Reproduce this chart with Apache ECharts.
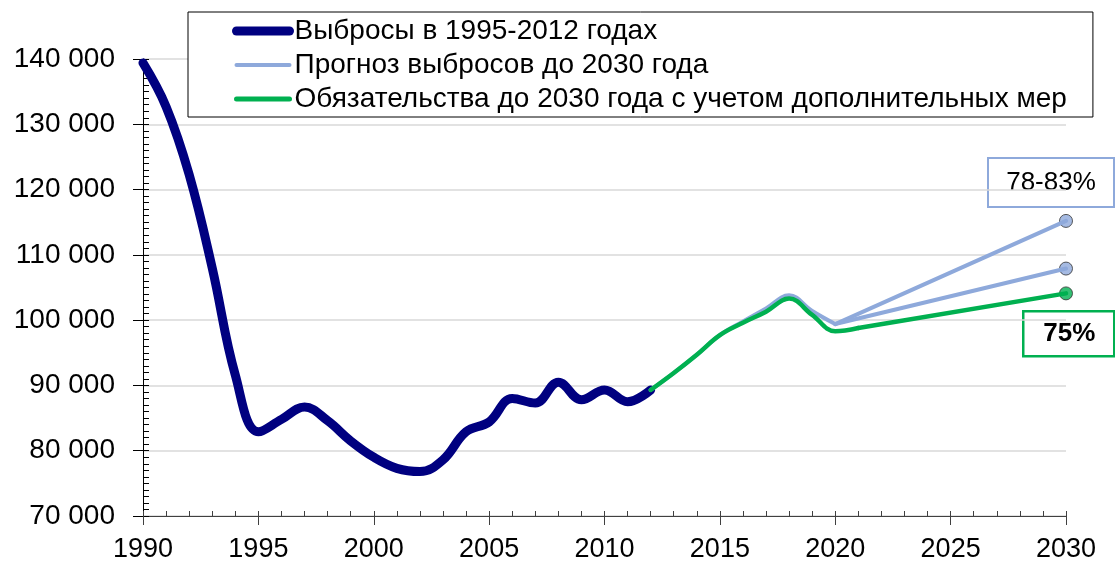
<!DOCTYPE html>
<html>
<head>
<meta charset="utf-8">
<script src="https://cdn.jsdelivr.net/npm/echarts@6/dist/echarts.min.js"></script>
<style>
  html, body { margin: 0; padding: 0; background: #fff; }
  #container { width: 1115px; height: 565px; }
</style>
</head>
<body>
<div id="container"></div>
<script>
// emissions 1990-2012
var histYears = [1990, 1991, 1992, 1993, 1994, 1995, 1996, 1997, 1998, 1999, 2000, 2001,
                 2002, 2003, 2004, 2005, 2006, 2007, 2008, 2009, 2010, 2011, 2012];
var histValues = [139400, 132700, 122300, 108000, 91600, 82900, 84800, 86700, 84600, 81500, 79000, 77300,
                  76800, 78600, 82900, 84400, 88000, 87300, 90500, 87800, 89300, 87500, 89300];

// forecast (two scenarios after 2020)
var fcYears = [2012, 2013, 2014, 2015, 2016, 2017, 2018, 2019, 2020];
var fcValues = [89300, 91900, 94700, 97700, 99800, 101800, 103800, 101400, 99400];
var fcHighYears = [2020, 2030];
var fcHighValues = [99400, 115200];
var fcLowYears = [2020, 2030];
var fcLowValues = [99400, 107900];

// commitments with additional measures
var comYears = [2012, 2013, 2014, 2015, 2016, 2017, 2018, 2019, 2020, 2021];
var comValues = [89300, 91900, 94700, 97700, 99600, 101300, 103300, 100800, 98300, 98800];
var comTailYears = [2021, 2030];
var comTailValues = [98800, 104100];

var seriesNames = [
    'Выбросы в 1995-2012 годах',
    'Прогноз выбросов до 2030 года',
    'Обязательства до 2030 года с учетом дополнительных мер'
];
var labelHigh = '78-83%';
var labelLow = '75%';

var NAVY = '#000080', BLUE = '#8EA9DB', GREEN = '#00B050';
var FONT = '"Liberation Sans", Arial, sans-serif';
var SMOOTH = 0.4;

function pairs(xs, ys) {
    var out = [];
    for (var i = 0; i < xs.length; i++) out.push([xs[i], ys[i]]);
    return out;
}

function fmt(v) {
    return String(v).replace(/\B(?=(\d{3})+(?!\d))/g, ' ');
}

var myChart = echarts.init(document.getElementById('container'));

var option = {
    animation: false,
    backgroundColor: '#fff',
    textStyle: { fontFamily: FONT },
    grid: { left: 143, right: 49, top: 59, bottom: 49 },
    legend: {
        orient: 'vertical',
        left: 188,
        top: 12,
        padding: [4, 26, 3, 44],
        itemWidth: 53,
        itemHeight: 14,
        itemGap: 4,
        backgroundColor: '#fff',
        borderColor: '#000',
        borderWidth: 1,
        borderRadius: 0,
        selectedMode: false,
        textStyle: { fontSize: 28, lineHeight: 30, color: '#000', fontFamily: FONT },
        data: [
            { name: seriesNames[0], itemStyle: { opacity: 0 }, lineStyle: { width: 9, color: NAVY, cap: 'round' } },
            { name: seriesNames[1], itemStyle: { opacity: 0 }, lineStyle: { width: 4, color: BLUE, cap: 'round' } },
            { name: seriesNames[2], itemStyle: { opacity: 0 }, lineStyle: { width: 5, color: GREEN, cap: 'round' } }
        ]
    },
    xAxis: [{
        type: 'value',
        min: 1990, max: 2030, interval: 5,
        axisLine: { lineStyle: { color: '#404040', width: 1 } },
        axisTick: { show: true, length: 9, lineStyle: { color: '#404040' } },
        axisLabel: { fontSize: 27, color: '#000', margin: 20, fontFamily: FONT,
                     formatter: function (v) { return String(v); } },
        splitLine: { show: false }
    }, {
        type: 'value',
        position: 'bottom',
        min: 1990, max: 2030, interval: 1,
        axisLine: { show: false },
        axisTick: { show: true, inside: true, length: 5, lineStyle: { color: '#404040' } },
        axisLabel: { show: false },
        splitLine: { show: false }
    }],
    yAxis: [{
        type: 'value',
        min: 70000, max: 140000, interval: 10000,
        axisLine: { show: true, lineStyle: { color: '#000', width: 1 } },
        axisTick: { show: true, length: 10, lineStyle: { color: '#000' } },
        axisLabel: { fontSize: 28, color: '#000', margin: 28, fontFamily: FONT, formatter: fmt },
        splitLine: { show: true, lineStyle: { color: '#d9d9d9', width: 1.5 } }
    }, {
        type: 'value',
        position: 'left',
        min: 70000, max: 140000, interval: 1000,
        axisLine: { show: false },
        axisTick: { show: true, inside: true, length: 6, lineStyle: { color: '#000' } },
        axisLabel: { show: false },
        splitLine: { show: false }
    }],
    series: [{
        name: seriesNames[0],
        type: 'line',
        smooth: SMOOTH,
        symbol: 'none',
        lineStyle: { color: NAVY, width: 9, cap: 'round', join: 'round' },
        itemStyle: { color: NAVY },
        data: pairs(histYears, histValues)
    }, {
        name: seriesNames[1],
        type: 'line',
        smooth: SMOOTH,
        symbol: 'none',
        lineStyle: { color: BLUE, width: 4, cap: 'round', join: 'round' },
        itemStyle: { color: BLUE },
        data: pairs(fcYears, fcValues)
    }, {
        name: seriesNames[1],
        type: 'line',
        symbol: 'none',
        lineStyle: { color: BLUE, width: 4, cap: 'round' },
        itemStyle: { color: BLUE },
        data: pairs(fcHighYears, fcHighValues)
    }, {
        name: seriesNames[1],
        type: 'line',
        symbol: 'none',
        lineStyle: { color: BLUE, width: 4, cap: 'round' },
        itemStyle: { color: BLUE },
        data: pairs(fcLowYears, fcLowValues)
    }, {
        name: seriesNames[2],
        type: 'line',
        smooth: SMOOTH,
        symbol: 'none',
        lineStyle: { color: GREEN, width: 4.5, cap: 'round', join: 'round' },
        itemStyle: { color: GREEN },
        data: pairs(comYears, comValues)
    }, {
        name: seriesNames[2],
        type: 'line',
        symbol: 'none',
        lineStyle: { color: GREEN, width: 4.5, cap: 'round' },
        itemStyle: { color: GREEN },
        data: pairs(comTailYears, comTailValues)
    }, {
        name: 'end-forecast',
        type: 'scatter',
        symbolSize: 13,
        itemStyle: { color: BLUE, borderColor: '#333', borderWidth: 1 },
        data: [[fcHighYears[1], fcHighValues[1]], [fcLowYears[1], fcLowValues[1]]]
    }, {
        name: 'end-commit',
        type: 'scatter',
        symbolSize: 13,
        itemStyle: { color: GREEN, borderColor: '#333', borderWidth: 1 },
        data: [[comTailYears[1], comTailValues[1]]]
    }],
    graphic: [{
        type: 'group',
        left: 987, top: 157,
        children: [{
            type: 'rect',
            shape: { x: 0, y: 0, width: 126, height: 49 },
            style: { fill: '#fff', stroke: BLUE, lineWidth: 2 }
        }, {
            type: 'text',
            x: 63, y: 25,
            style: { text: labelHigh, fontSize: 26, fontFamily: FONT, fill: '#000', align: 'center', verticalAlign: 'middle' }
        }]
    }, {
        type: 'group',
        left: 1022, top: 310,
        children: [{
            type: 'rect',
            shape: { x: 0, y: 0, width: 91, height: 45 },
            style: { fill: '#fff', stroke: GREEN, lineWidth: 2.5 }
        }, {
            type: 'text',
            x: 46, y: 23,
            style: { text: labelLow, fontSize: 26, fontWeight: 'bold', fontFamily: FONT, fill: '#000', align: 'center', verticalAlign: 'middle' }
        }]
    }]
};

myChart.setOption(option);
</script>
</body>
</html>
